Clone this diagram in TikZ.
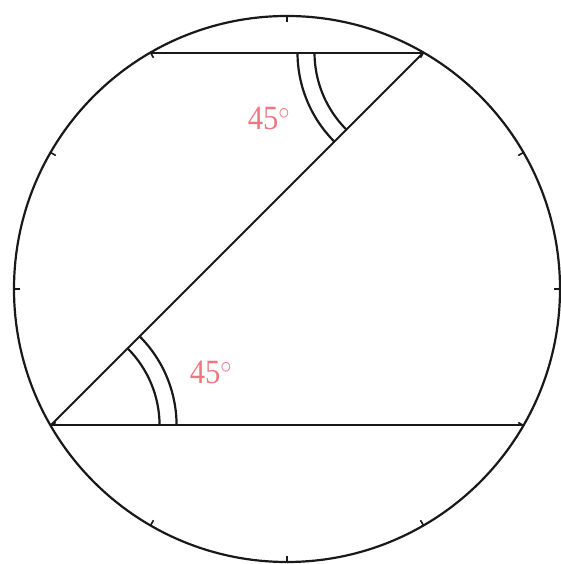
\documentclass[tikz,border=0pt]{standalone}
\usepackage{fontspec}
\setmainfont{Liberation Serif}
\newfontfamily\lblfont{Liberation Serif}
\usetikzlibrary{calc}
\definecolor{lbl}{RGB}{238,120,130}
\begin{document}
\begin{tikzpicture}[x=1pt,y=1pt,
  rim/.style={line width=2.2pt,black!90},
  chord/.style={line width=2pt,black!90},
  tick/.style={line width=1.6pt,black!90},
  anglearc/.style={line width=2.2pt,black!90},
  lab/.style={text=lbl,font=\lblfont\fontsize{34}{34}\selectfont,inner sep=0pt,xscale=0.9}]
\useasboundingbox (0,0) rectangle (561,564);
\coordinate (O) at (287,275);
\def\R{273}
\draw[rim] (O) circle (\R);
\foreach \a in {0,30,...,330}{
  \draw[tick] ($(O)+(\a:\R)$) -- ($(O)+(\a:\R-6)$);
}
\coordinate (A) at ($(O)+(210:\R)$);
\coordinate (B) at ($(O)+(60:\R)$);
\coordinate (C) at ($(O)+(120:\R)$);
\coordinate (D) at ($(O)+(330:\R)$);
\draw[chord] (C) -- (B);
\draw[chord] (A) -- (D);
\draw[chord] (A) -- (B);
\draw[anglearc] ($(A)+(0:109)$) arc (0:45:109);
\draw[anglearc] ($(A)+(0:126)$) arc (0:45:126);
\draw[anglearc] ($(B)+(180:109)$) arc (180:225:109);
\draw[anglearc] ($(B)+(180:126)$) arc (180:225:126);
\node[lab] (t1) at (269,446) {45$^\circ$};
\node[lab] (t2) at (211,192) {45$^\circ$};
\end{tikzpicture}
\end{document}
